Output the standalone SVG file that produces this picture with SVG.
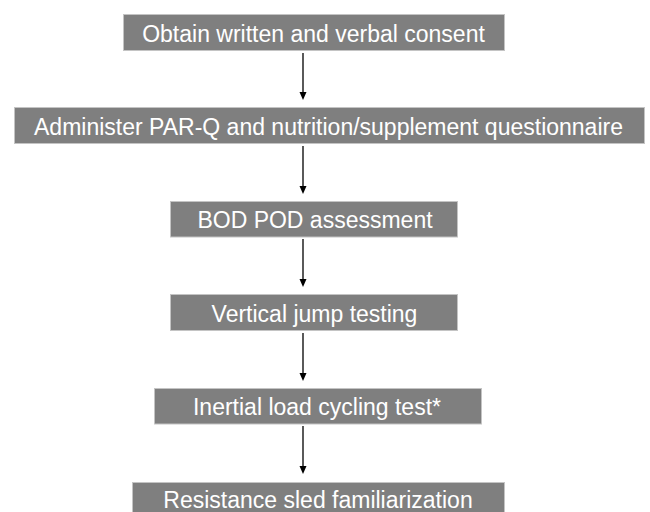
<svg xmlns="http://www.w3.org/2000/svg" width="650" height="512" viewBox="0 0 650 512">
<style>
.box{fill:#7f7f7f;stroke:#c4c4c4;stroke-width:1}
.lbl{font-family:"Liberation Sans",Arial,sans-serif;font-size:23px;fill:#ffffff;text-anchor:middle}
.conn{stroke:#000;stroke-width:1.3;fill:none}
.head{fill:#000}
</style>
<rect width="650" height="512" fill="#ffffff"/>
<g id="n1"><rect class="box" x="123.5" y="14.5" width="381" height="36"/><text class="lbl" x="313.5" y="41.5">Obtain written and verbal consent</text></g>
<g id="n2"><rect class="box" x="14.5" y="107.5" width="630" height="36"/><text class="lbl" x="328.5" y="134.5">Administer PAR-Q and nutrition/supplement questionnaire</text></g>
<g id="n3"><rect class="box" x="170.5" y="201.5" width="287" height="35.5"/><text class="lbl" x="315" y="228">BOD POD assessment</text></g>
<g id="n4"><rect class="box" x="170.5" y="294.5" width="287" height="36"/><text class="lbl" x="314.5" y="321.5">Vertical jump testing</text></g>
<g id="n5"><rect class="box" x="154.5" y="388.5" width="327" height="35.5"/><text class="lbl" x="317" y="415">Inertial load cycling test*</text></g>
<g id="n6"><rect class="box" x="132.5" y="482.5" width="372" height="36"/><text class="lbl" x="318" y="507.5">Resistance sled familiarization</text></g>
<g id="connectors">
<path class="conn" d="M303,53 V93"/><path class="head" d="M299.5,92 H306.5 L303,100 Z"/>
<path class="conn" d="M303,146 V187"/><path class="head" d="M299.5,186 H306.5 L303,194 Z"/>
<path class="conn" d="M303,239 V280"/><path class="head" d="M299.5,279 H306.5 L303,287 Z"/>
<path class="conn" d="M303,333 V374"/><path class="head" d="M299.5,373 H306.5 L303,381 Z"/>
<path class="conn" d="M303,426 V467"/><path class="head" d="M299.5,466 H306.5 L303,474 Z"/>
</g>
</svg>
